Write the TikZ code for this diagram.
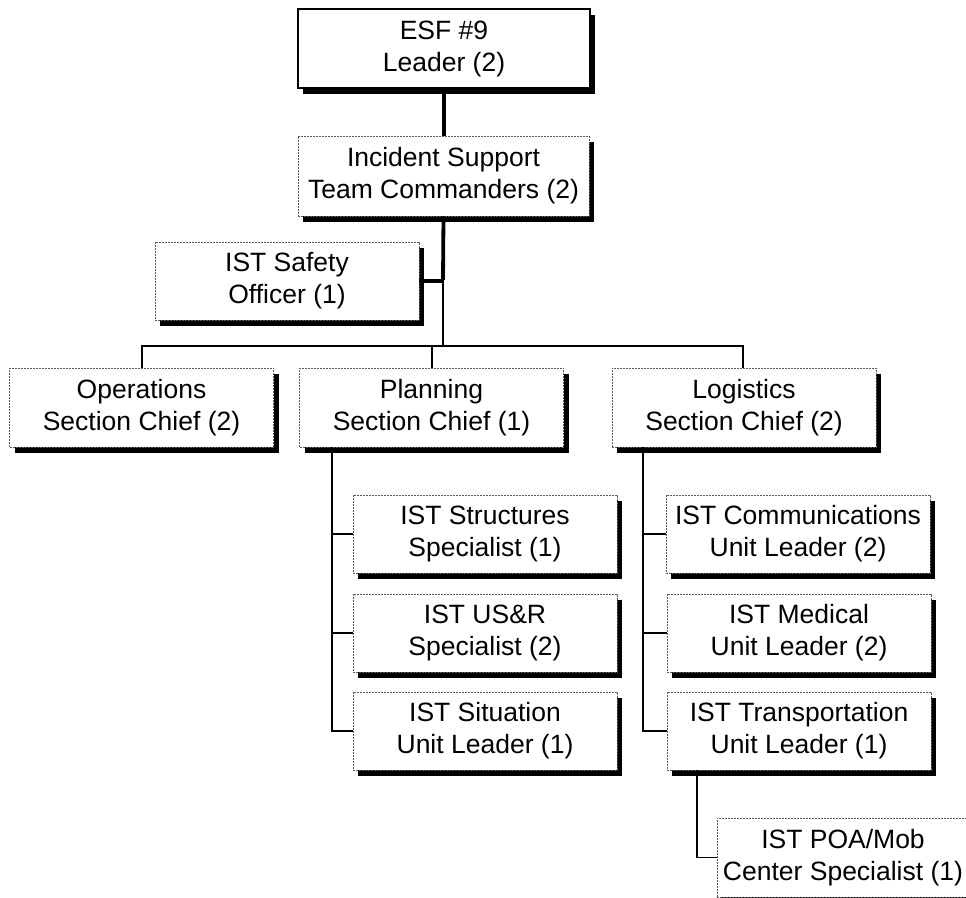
\documentclass[tikz,border=0pt]{standalone}
\usepackage{fontspec}
\setmainfont{Liberation Sans}
\usetikzlibrary{shadows}
\begin{document}
\begin{tikzpicture}[x=1pt,y=-1pt,
  orgbox/.style={draw=black!65, line width=0.7pt, dash pattern=on 2pt off 1pt,
    fill=white, minimum width=264pt, minimum height=78pt, inner sep=0pt,
    align=center, font=\fontsize{26.5}{32}\selectfont,
    drop shadow={shadow xshift=5pt, shadow yshift=-6pt, fill=black, opacity=1}},
  topbox/.style={orgbox, draw=black, solid, line width=1.2pt},
  thin/.style={line width=1.6pt, black},
  thick/.style={line width=3.8pt, black}]
\clip (0,0) rectangle (966,897);
\fill[white] (0,0) rectangle (966,897);

% junction points of the connectors
\coordinate (jS) at (443,280);
\coordinate (busL) at (142,346);
\coordinate (busM) at (443,346);
\coordinate (busP) at (432,346);
\coordinate (busR) at (743,346);

\node[topbox, minimum width=292pt, minimum height=79pt] (esf) at (444,48.5) {ESF \#9\\Leader (2)};
\node[orgbox, minimum width=291pt, minimum height=80pt] (ist) at (443.5,176) {Incident Support\\Team Commanders (2)};
\node[orgbox] (safe) at (287,281) {IST Safety\\Officer (1)};
\node[orgbox, minimum height=79pt] (ops) at (141.5,407.5) {Operations\\Section Chief (2)};
\node[orgbox, minimum height=79pt] (plan) at (431.5,407.5) {Planning\\Section Chief (1)};
\node[orgbox, minimum height=79pt] (log) at (744,407.5) {Logistics\\Section Chief (2)};
\node[orgbox] (str) at (485,534) {IST Structures\\Specialist (1)};
\node[orgbox] (usr) at (485,633) {IST US\&R\\Specialist (2)};
\node[orgbox] (sit) at (485,731) {IST Situation\\Unit Leader (1)};
\node[orgbox] (com) at (798,534) {IST Communications\\Unit Leader (2)};
\node[orgbox] (med) at (799,633) {IST Medical\\Unit Leader (2)};
\node[orgbox] (tra) at (799,731) {IST Transportation\\Unit Leader (1)};
\node[orgbox, minimum width=252pt, minimum height=79pt] (poa) at (843,857.5) {IST POA/Mob\\Center Specialist (1)};

% thick connectors
\draw[thick] (esf.south) -- (esf.south |- ist.north);
\draw[thick] (ist.south) -- (jS);
\draw[thick] (safe.east) -- (safe.east -| jS);
% thin connectors
\draw[thin] (jS) -- (busM);
\draw[thin] (ops.north -| busL) -- (busL) -- (busR) -- (log.north -| busR);
\draw[thin] (busP) -- (plan.north -| busP);

\coordinate (pv) at (332,447);
\draw[thin] (pv) |- (sit.west);
\draw[thin] (pv |- str.west) -- (str.west);
\draw[thin] (pv |- usr.west) -- (usr.west);

\coordinate (lv) at (643,447);
\draw[thin] (lv) |- (tra.west);
\draw[thin] (lv |- com.west) -- (com.west);
\draw[thin] (lv |- med.west) -- (med.west);

\coordinate (tv) at (697,770);
\draw[thin] (tv) |- (poa.west);
\end{tikzpicture}
\end{document}
